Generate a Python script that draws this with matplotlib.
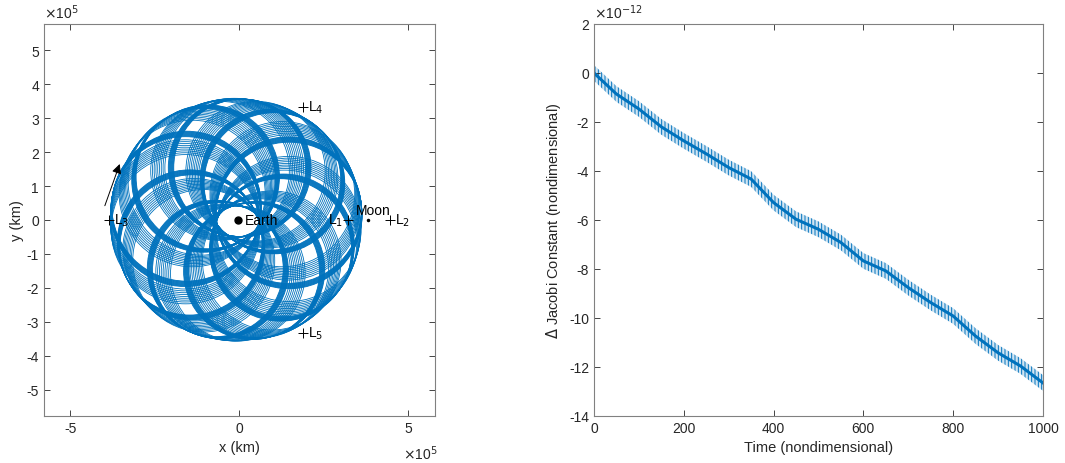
import numpy as np
import matplotlib
matplotlib.use("Agg")
import matplotlib.pyplot as plt
from matplotlib.patches import Circle
from matplotlib.ticker import FuncFormatter, MultipleLocator

plt.rcParams['font.family'] = ['Liberation Sans', 'DejaVu Sans']
plt.rcParams['font.size'] = 10
plt.rcParams['axes.unicode_minus'] = False
plt.rcParams['hatch.linewidth'] = 0.7

BLUE = '#0072BD'
GREY = '#262626'

# ---- left panel: trajectory in the rotating frame (km) ----
earth_xy = (-4671, 0)
moon_xy = (379729, 0)
lagr_names = ['L$_1$', 'L$_2$', 'L$_3$', 'L$_4$', 'L$_5$']
lagr_x = [321710, 444240, -386350, 187530, 187530]
lagr_y = [0, 0, 0, 332900, -332900]

# loop bundles: direction of loop centre seen from Earth (deg),
# centre distance (km), loop radius (km), revolutions in the bundle, bundle spread (deg)
loop_dir = [8, 22, 48, 62, 88, 102, 128, 142, 168, 182,
            208, 222, 248, 262, 288, 302, 328, 342]
loop_dist = [152000, 152000, 153000, 153000, 154000, 154000, 155000, 156000, 157000,
             157000, 157000, 157000, 158000, 158000, 157000, 156000, 154000, 153000]
loop_radius = [216000, 214000, 208000, 206000, 203000, 205000, 212000, 216000, 221000,
               220000, 214000, 210000, 201000, 199000, 201000, 205000, 210000, 214000]
loop_revs = [12, 9] * 9
loop_spread = [6, 16] * 9

# ---- right panel: Jacobi constant drift (units of 1e-12) ----
t_read = [0, 50, 100, 150, 200, 250, 300, 350, 400, 450, 500,
          550, 600, 650, 700, 750, 800, 850, 900, 950, 1000]
dC_read = [0.0, -0.86, -1.47, -2.2, -2.77, -3.3, -3.86, -4.33, -5.29, -5.97, -6.38,
           -6.92, -7.67, -8.08, -8.76, -9.37, -9.92, -10.74, -11.42, -11.96, -12.65]
dC_jitter = 0.32   # half height of the fast oscillation band


def matlab_axes(ax):
    ax.tick_params(direction='in', top=True, right=True, length=4, width=0.6,
                   colors=GREY, labelcolor=GREY, labelsize=10)
    for sp in ax.spines.values():
        sp.set_color('#808080')
        sp.set_linewidth(0.8)


fig = plt.figure(figsize=(10.65, 4.64), dpi=100)
ax1 = fig.add_axes([0.0413, 0.1013, 0.367, 0.845])
ax2 = fig.add_axes([0.5577, 0.1013, 0.4216, 0.845])

# trajectory loops
for d0, dist, rad, n, spr in zip(loop_dir, loop_dist, loop_radius, loop_revs, loop_spread):
    for ang in np.linspace(d0 - spr / 2, d0 + spr / 2, n):
        cx = earth_xy[0] + dist * np.cos(np.radians(ang))
        cy = earth_xy[1] + dist * np.sin(np.radians(ang))
        ax1.add_patch(Circle((cx, cy), rad, fill=False, ec=BLUE, lw=0.6))

ax1.plot(*earth_xy, 'o', color='k', ms=5)
ax1.text(earth_xy[0] + 22000, earth_xy[1], 'Earth', va='center', ha='left', fontsize=10)
ax1.plot(*moon_xy, '.', color='k', ms=3)
ax1.text(moon_xy[0] - 34000, 8000, 'Moon', va='bottom', ha='left', fontsize=10)
ax1.plot(lagr_x, lagr_y, '+', color='k', ms=7, mew=0.7)
for i, (nm, lx, ly) in enumerate(zip(lagr_names, lagr_x, lagr_y)):
    if i == 0:
        ax1.annotate(nm, (lx, ly), xytext=(-4, 0), textcoords='offset points',
                     ha='right', va='center', fontsize=10)
    else:
        ax1.annotate(nm, (lx, ly), xytext=(4, 0), textcoords='offset points',
                     ha='left', va='center', fontsize=10)
ax1.annotate('', xy=(-354000, 165000), xytext=(-398000, 42000),
             arrowprops=dict(arrowstyle='-|>', color='k', lw=0.7,
                             mutation_scale=14, shrinkA=0, shrinkB=0))

ax1.set_xlim(-5.78e5, 5.78e5)
ax1.set_ylim(-5.78e5, 5.78e5)
ax1.xaxis.set_major_locator(MultipleLocator(5e5))
ax1.yaxis.set_major_locator(MultipleLocator(1e5))
km_fmt = FuncFormatter(lambda v, p: f'{v / 1e5:g}')
ax1.xaxis.set_major_formatter(km_fmt)
ax1.yaxis.set_major_formatter(km_fmt)
ax1.set_xlabel('x (km)', color=GREY, fontsize=10.5)
ax1.set_ylabel('y (km)', color=GREY, fontsize=10.5, labelpad=2)
ax1.text(0.0, 1.008, '$\\times$10$^5$', transform=ax1.transAxes, ha='left', va='bottom',
         color=GREY, fontsize=10)
ax1.text(0.918, -0.094, '$\\times$10$^5$', transform=ax1.transAxes, ha='left', va='center',
         color=GREY, fontsize=10)
matlab_axes(ax1)

# Jacobi constant
t = np.array(t_read)
dC = np.array(dC_read)
ax2.fill_between(t, dC - dC_jitter, dC + dC_jitter, facecolor=BLUE, alpha=0.18, lw=0)
ax2.fill_between(t, dC - dC_jitter, dC + dC_jitter, facecolor='none', edgecolor=BLUE,
                 hatch='|||||', lw=0)
ax2.plot(t, dC, color=BLUE, lw=2.2)
ax2.set_xlim(0, 1000)
ax2.set_ylim(-14, 2)
ax2.xaxis.set_major_locator(MultipleLocator(200))
ax2.yaxis.set_major_locator(MultipleLocator(2))
ax2.set_xlabel('Time (nondimensional)', color=GREY, fontsize=10.5)
ax2.set_ylabel('$\\Delta$ Jacobi Constant (nondimensional)', color=GREY, fontsize=10.5)
ax2.text(0.0, 1.008, '$\\times$10$^{-12}$', transform=ax2.transAxes, ha='left', va='bottom',
         color=GREY, fontsize=10)
matlab_axes(ax2)

fig.savefig('out.png', dpi=100)
